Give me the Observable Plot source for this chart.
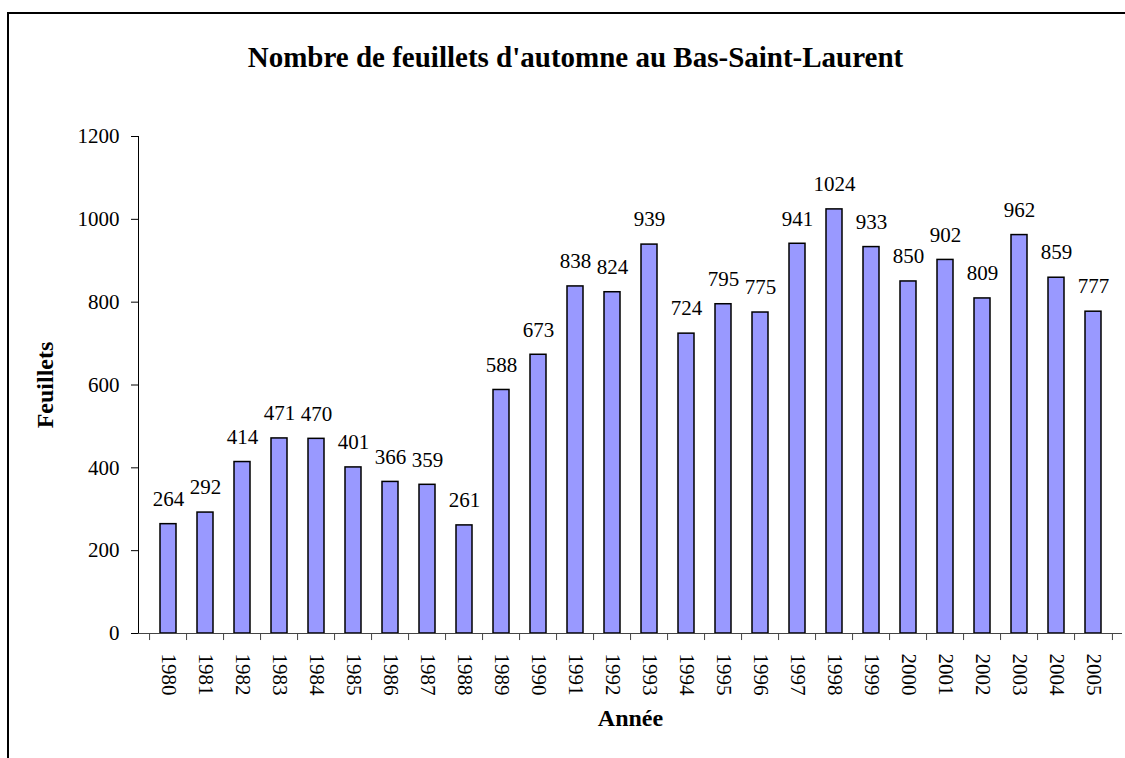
<!DOCTYPE html>
<html>
<head>
<meta charset="utf-8">
<script src="https://cdn.jsdelivr.net/npm/d3@7"></script>
<script src="https://cdn.jsdelivr.net/npm/@observablehq/plot@0.6"></script>
<style>
  html, body { margin: 0; padding: 0; background: #fff; overflow: hidden; }
  #wrap { position: relative; width: 1125px; height: 758px; overflow: hidden; }
  #frame { position: absolute; left: 7px; top: 12px; width: 1300px; height: 1000px; border: 2px solid #000; pointer-events: none; box-sizing: border-box; }
</style>
</head>
<body>
<div id="wrap"><div id="frame"></div></div>
<script>
const years = ["1980","1981","1982","1983","1984","1985","1986","1987","1988","1989","1990","1991","1992","1993","1994","1995","1996","1997","1998","1999","2000","2001","2002","2003","2004","2005"];
const values = [264,292,414,471,470,401,366,359,261,588,673,838,824,939,724,795,775,941,1024,933,850,902,809,962,859,777];
const yTicks = [0,200,400,600,800,1000,1200];
const title = "Nombre de feuillets d'automne au Bas-Saint-Laurent";
const xLabel = "Année";
const yLabel = "Feuillets";

const data = years.map((y, i) => ({year: y, value: values[i]}));

const W = 1125, H = 758;
const mL = 138, mR = 3, mT = 136, mB = 125;
const step = (W - mL - mR) / years.length;
const serif = "Liberation Serif";

const chart = Plot.plot({
  width: W,
  height: H,
  marginLeft: mL,
  marginRight: mR,
  marginTop: mT,
  marginBottom: mB,
  style: {fontFamily: serif, fontSize: "21px", color: "#000", background: "transparent"},
  x: {domain: years, paddingInner: 0.58, paddingOuter: 0.29, axis: null},
  y: {domain: [0, 1200], ticks: yTicks, tickFormat: d => String(d), tickSize: 7, tickPadding: 12, label: null, line: true},
  marks: [
    Plot.barY(data, {x: "year", y: "value", fill: "#9999FF", stroke: "#000", strokeWidth: 1.5}),
    Plot.text(data, {x: "year", y: "value", text: d => String(d.value), dy: -25, lineAnchor: "middle", fontSize: 21, fontFamily: serif, fill: "#000"}),
    // x axis baseline
    Plot.ruleY([0], {stroke: "#444"}),
    // x ticks at category boundaries
    Plot.ruleX(years, {x: d => d, y1: 0, y2: -17, dx: -step / 2, stroke: "#444"}),
    Plot.ruleX([years[years.length - 1]], {x: d => d, y1: 0, y2: -17, dx: step / 2, stroke: "#444"}),
    // x tick labels
    Plot.text(years, {x: d => d, text: d => d, frameAnchor: "bottom", dy: 20, rotate: 90, textAnchor: "start", lineAnchor: "middle", fontSize: 21, fontFamily: serif, fill: "#000"}),
    // axis titles
    Plot.text([xLabel], {frameAnchor: "bottom", text: d => d, dy: 85, textAnchor: "middle", fontWeight: "bold", fontSize: 24, fontFamily: serif, lineAnchor: "middle", fill: "#000"}),
    Plot.text([yLabel], {frameAnchor: "left", text: d => d, dx: -93, rotate: -90, textAnchor: "middle", fontWeight: "bold", fontSize: 24, fontFamily: serif, lineAnchor: "middle", fill: "#000"}),
    // title
    Plot.text([title], {frameAnchor: "top", text: d => d, dx: -55, dy: -79, textAnchor: "middle", fontWeight: "bold", fontSize: 29, fontFamily: serif, lineAnchor: "middle", fill: "#000"})
  ]
});
chart.style.position = "absolute";
chart.style.left = "0px";
chart.style.top = "0px";
document.getElementById("wrap").appendChild(chart);
</script>
</body>
</html>
